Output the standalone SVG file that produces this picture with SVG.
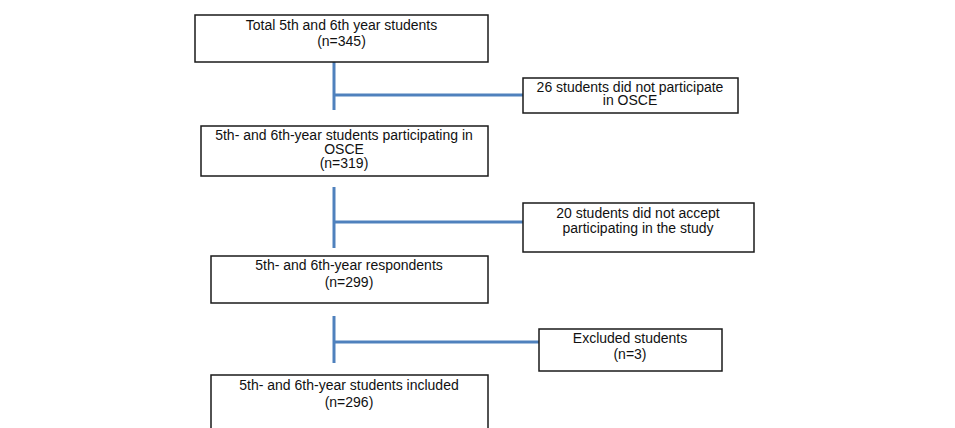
<svg xmlns="http://www.w3.org/2000/svg" width="955" height="428" viewBox="0 0 955 428">
<style>
.box{fill:#fff;stroke:#1a1a1a;stroke-width:1.5}
.t{font-family:"Liberation Sans",Arial,sans-serif;font-size:14px;fill:#111;text-anchor:middle}
.c{stroke:#4f81bd;stroke-width:3;fill:none}
</style>
<rect width="955" height="428" fill="#fff"/>
<g id="connectors">
<line class="c" x1="334" y1="62" x2="334" y2="110"/>
<line class="c" x1="334" y1="95" x2="523" y2="95"/>
<line class="c" x1="334" y1="187" x2="334" y2="248"/>
<line class="c" x1="334" y1="222" x2="523" y2="222"/>
<line class="c" x1="334" y1="316" x2="334" y2="363"/>
<line class="c" x1="334" y1="342" x2="539" y2="342"/>
</g>
<g id="n1">
<rect class="box" x="195" y="15" width="293" height="47"/>
<text class="t" x="341.5" y="30">Total 5th and 6th year students</text>
<text class="t" x="341.5" y="46">(n=345)</text>
</g>
<g id="n2">
<rect class="box" x="201" y="126" width="287" height="50"/>
<text class="t" x="344" y="140">5th- and 6th-year students participating in</text>
<text class="t" x="344" y="154">OSCE</text>
<text class="t" x="344" y="168">(n=319)</text>
</g>
<g id="n3">
<rect class="box" x="523" y="78" width="215" height="35"/>
<text class="t" x="630" y="92">26 students did not participate</text>
<text class="t" x="630" y="105">in OSCE</text>
</g>
<g id="n4">
<rect class="box" x="523" y="203" width="231" height="49"/>
<text class="t" x="638" y="218">20 students did not accept</text>
<text class="t" x="638" y="233">participating in the study</text>
</g>
<g id="n5">
<rect class="box" x="211" y="256" width="277" height="47"/>
<text class="t" x="349" y="270">5th- and 6th-year respondents</text>
<text class="t" x="349" y="287">(n=299)</text>
</g>
<g id="n6">
<rect class="box" x="539" y="329" width="183" height="42"/>
<text class="t" x="630" y="343">Excluded students</text>
<text class="t" x="630" y="359">(n=3)</text>
</g>
<g id="n7">
<rect class="box" x="211" y="375" width="277" height="60"/>
<text class="t" x="349" y="390">5th- and 6th-year students included</text>
<text class="t" x="349" y="407">(n=296)</text>
</g>
</svg>
